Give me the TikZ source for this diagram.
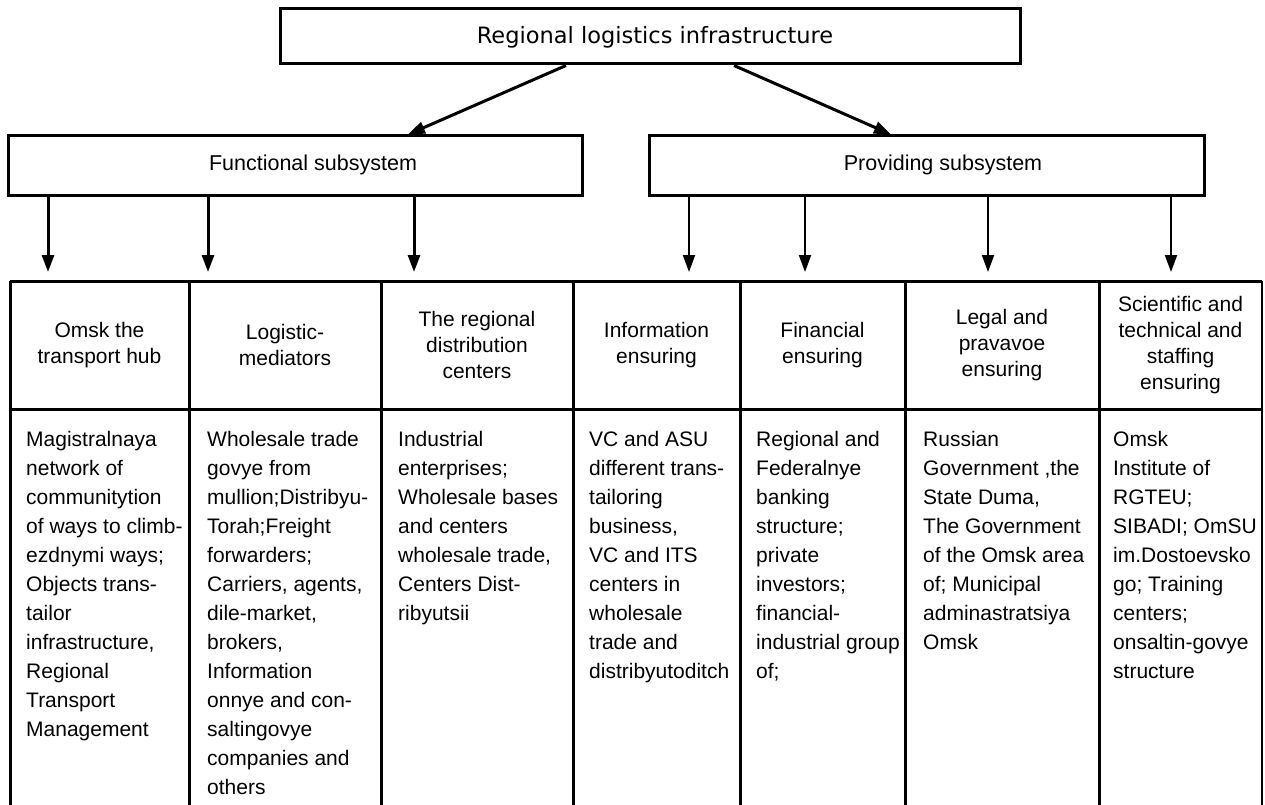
\documentclass[tikz,border=0pt]{standalone}
\usepackage{fontspec}
\setmainfont{Liberation Sans}
\newfontfamily\topfont{DejaVu Sans}
\usetikzlibrary{arrows.meta}
\begin{document}
\begin{tikzpicture}[x=1pt,y=-1pt,
  box/.style={draw, line width=3pt, inner sep=0pt},
  lab/.style={inner sep=0pt, anchor=base, font=\fontsize{21.5}{26}\selectfont},
  arr/.style={-{Triangle[width=12pt,length=17pt]}, line width=3pt},
  arrthin/.style={-{Triangle[width=12pt,length=17pt]}, line width=2pt},
  gridline/.style={line width=3pt},
  gridthin/.style={line width=1.5pt},
  hd/.style={align=center, inner sep=0pt, font=\fontsize{21}{26}\selectfont},
  bd/.style={align=left, anchor=north west, inner sep=0pt, font=\fontsize{21}{29}\selectfont}]
\useasboundingbox (0,0) rectangle (1265,805);

% top level boxes
\node[box, minimum width=740pt, minimum height=55pt] (top) at (650,36.5) {};
\node[lab, font=\topfont\fontsize{22.5}{26}\selectfont] (toplab) at (655,44) {Regional logistics infrastructure};
\node[box, minimum width=574pt, minimum height=59pt] (func) at (295,165.5) {};
\node[lab] (funclab) at (313,171) {Functional subsystem};
\node[box, minimum width=555pt, minimum height=59pt] (prov) at (926.5,165.5) {};
\node[lab] (provlab) at (943,171) {Providing subsystem};

\draw[arr] ([xshift=-84pt]top.south) -- ([xshift=113pt]func.north);
\draw[arr] ([xshift=84pt]top.south) -- ([xshift=-35.5pt]prov.north);

% arrow end points at the table
\coordinate (a1) at (48,272);
\coordinate (a2) at (208,272);
\coordinate (a3) at (414,272);
\coordinate (a4) at (689,272);
\coordinate (a5) at (805,272);
\coordinate (a6) at (988,272);
\coordinate (a7) at (1171,272);
\draw[arr] (func.south -| a1) -- (a1);
\draw[arr] (func.south -| a2) -- (a2);
\draw[arr] (func.south -| a3) -- (a3);
\draw[arrthin] (prov.south -| a4) -- (a4);
\draw[arrthin] (prov.south -| a5) -- (a5);
\draw[arrthin] (prov.south -| a6) -- (a6);
\draw[arrthin] (prov.south -| a7) -- (a7);

% table grid
\draw[gridline] (10,281) -- (1262,281);
\draw[gridline] (10,409) -- (1262,409);
\foreach \x in {10,189,381,573,740,905,1099}{
  \draw[gridline] (\x,281) -- (\x,805);
}
\draw[gridthin] (1262,281) -- (1262,805);

% header cells
\node[hd] (h1) at (99.5,345) {Omsk the\\transport hub};
\node[hd] (h2) at (285,345) {Logistic-\\mediators};
\node[hd] (h3) at (477,345) {The regional\\distribution\\centers};
\node[hd] (h4) at (656.5,345) {Information\\ensuring};
\node[hd] (h5) at (822.5,345) {Financial\\ensuring};
\node[hd] (h6) at (1002,345) {Legal and\\pravavoe\\ensuring};
\node[hd] (h7) at (1180.5,345) {Scientific and\\technical and\\staffing\\ensuring};

% body cells
\node[bd] (b1) at (26,431) {Magistralnaya\\network of\\communitytion\\of ways to climb-\\ezdnymi ways;\\Objects trans-\\tailor\\infrastructure,\\Regional\\Transport\\Management};
\node[bd] (b2) at (207,431) {Wholesale trade\\govye from\\mullion;Distribyu-\\Torah;Freight\\forwarders;\\Carriers, agents,\\dile-market,\\brokers,\\Information\\onnye and con-\\saltingovye\\companies and\\others};
\node[bd] (b3) at (398,431) {Industrial\\enterprises;\\Wholesale bases\\and centers\\wholesale trade,\\Centers Dist-\\ribyutsii};
\node[bd] (b4) at (589,431) {VC and ASU\\different trans-\\tailoring\\business,\\VC and ITS\\centers in\\wholesale\\trade and\\distribyutoditch};
\node[bd] (b5) at (756,431) {Regional and\\Federalnye\\banking\\structure;\\private\\investors;\\financial-\\industrial group\\of;};
\node[bd] (b6) at (923,431) {Russian\\Government ,the\\State Duma,\\The Government\\of the Omsk area\\of; Municipal\\adminastratsiya\\Omsk};
\node[bd] (b7) at (1113,431) {Omsk\\Institute of\\RGTEU;\\SIBADI; OmSU\\im.Dostoevsko\\go; Training\\centers;\\onsaltin-govye\\structure};
\end{tikzpicture}
\end{document}
